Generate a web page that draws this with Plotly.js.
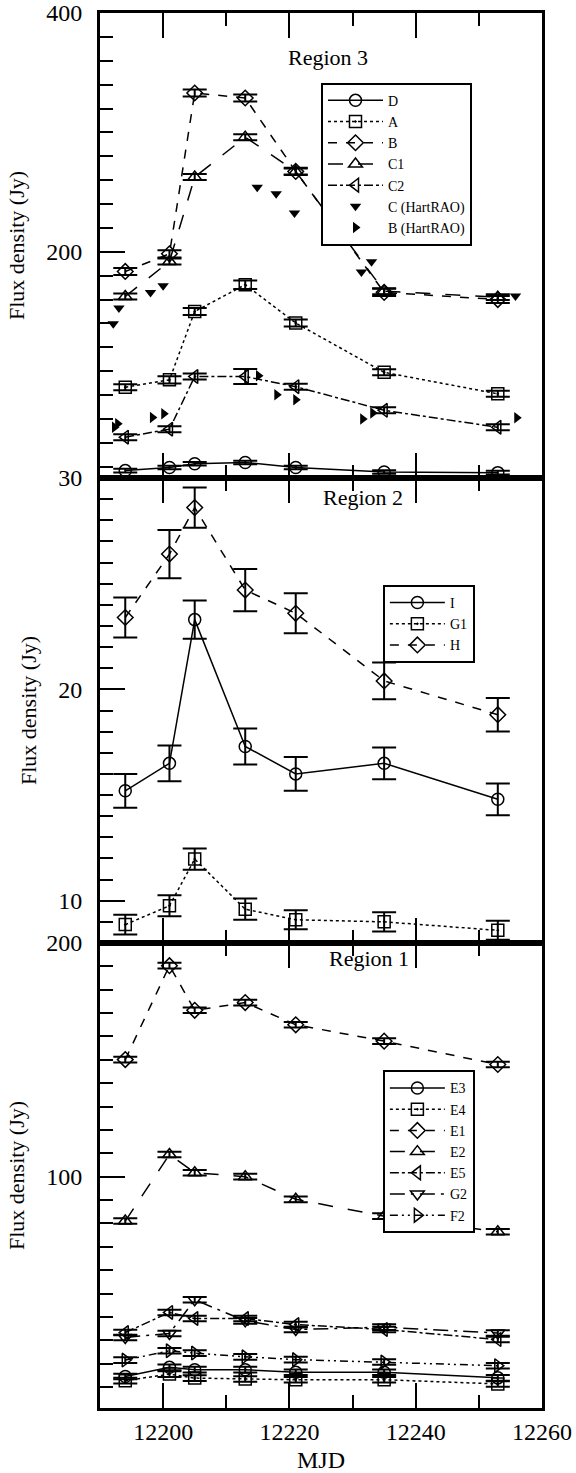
<!DOCTYPE html>
<html>
<head>
<meta charset="utf-8">
<script src="https://cdn.plot.ly/plotly-3.0.1.min.js"></script>
<style>html,body{margin:0;padding:0;background:#fff;}#chart{width:576px;height:1473px;}</style>
</head>
<body>
<div id="chart"></div>
<script>
// ---------- data ----------
const mjd = [12194, 12201, 12205, 12213, 12221, 12235, 12253];

// Region 3 (top panel)
const r3_D  = [16.7, 19.3, 22.4, 23.5, 19.3, 15.5, 15.0];
const r3_Derr = [1.5, 1.5, 1.5, 1.5, 1.5, 1.5, 1.5];
const r3_A  = [86.6, 92.7, 150.0, 172.4, 140.3, 99.0, 81.0];
const r3_Aerr = [2.5, 3.0, 3.0, 3.5, 3.0, 2.5, 2.5];
const r3_B  = [183.5, 198.3, 333.0, 328.8, 267.3, 166.0, 160.0];
const r3_Berr = [3.0, 3.0, 3.0, 3.0, 3.0, 3.0, 3.0];
const r3_C1 = [162.6, 191.9, 262.6, 296.0, 267.3, 167.0, 162.0];
const r3_C1err = [2.5, 2.5, 2.5, 2.5, 2.5, 2.5, 2.5];
const r3_C2 = [44.7, 51.4, 95.5, 95.5, 87.0, 67.2, 53.0];
const r3_C2err = [2.5, 2.5, 2.5, 6.3, 2.5, 2.5, 2.5];
const hartC_mjd = [12192.1, 12193.0, 12198.0, 12200.0, 12214.9, 12217.9, 12220.8, 12231.4, 12233.0, 12255.8];
const hartC_val = [139.7, 152.8, 165.9, 171.5, 254.0, 248.6, 232.4, 183.0, 191.6, 163.0];
const hartB_mjd = [12192.3, 12192.8, 12198.3, 12200.1, 12215.1, 12218.0, 12221.0, 12231.6, 12233.2, 12256.0];
const hartB_val = [53.0, 56.0, 61.2, 64.3, 96.1, 80.2, 76.0, 60.0, 65.0, 61.0];

// Region 2 (middle panel)
const r2_I  = [15.2, 16.5, 23.3, 17.3, 16.0, 16.5, 14.8];
const r2_Ierr = [0.8, 0.85, 0.9, 0.85, 0.8, 0.75, 0.75];
const r2_G1 = [8.87, 9.76, 11.97, 9.6, 9.1, 9.0, 8.6];
const r2_G1err = [0.47, 0.5, 0.5, 0.5, 0.45, 0.45, 0.45];
const r2_H  = [23.4, 26.4, 28.6, 24.7, 23.6, 20.4, 18.8];
const r2_Herr = [0.95, 1.14, 0.95, 1.0, 0.95, 0.87, 0.79];

// Region 1 (bottom panel)
const r1_E3 = [14.5, 18.4, 17.4, 17.4, 16.3, 16.3, 13.9];
const r1_E4 = [12.7, 15.5, 13.8, 13.4, 13.1, 13.1, 11.3];
const r1_E1 = [150.1, 190.3, 171.2, 174.5, 165.0, 158.0, 148.0];
const r1_E2 = [81.0, 109.5, 101.7, 100.0, 90.3, 83.1, 76.4];
const r1_E5 = [33.3, 41.9, 39.3, 39.3, 36.7, 34.6, 30.3];
const r1_G2 = [31.2, 32.9, 47.3, 38.3, 34.6, 35.6, 33.1];
const r1_F2 = [21.5, 25.5, 24.5, 22.9, 21.7, 20.7, 19.1];
const r1_err = [1.2, 1.2, 1.2, 1.2, 1.2, 1.2, 1.2];

// ---------- styling helpers ----------
const FONT = '"Liberation Serif", "Times New Roman", serif';
function series(name, y, err, symbol, dash, xa, ya, legend) {
  return {
    x: mjd, y: y, name: name, type: 'scatter', mode: 'lines+markers',
    xaxis: xa, yaxis: ya, legend: legend,
    line: {color: '#000', width: 1.5, dash: dash},
    marker: {symbol: symbol, size: 12, color: '#000', line: {color: '#000', width: 1.5}},
    error_y: {type: 'data', array: err, visible: true, color: '#000', thickness: 2, width: 12}
  };
}
const dashdotdot = '8px,4px,2px,4px,2px,4px';

const traces = [
  series('D', r3_D, r3_Derr, 'circle-open', 'solid', 'x3', 'y3', 'legend'),
  series('A', r3_A, r3_Aerr, 'square-open-dot', 'dot', 'x3', 'y3', 'legend'),
  series('B', r3_B, r3_Berr, 'diamond-open', 'dash', 'x3', 'y3', 'legend'),
  series('C1', r3_C1, r3_C1err, 'triangle-up-open', 'longdash', 'x3', 'y3', 'legend'),
  series('C2', r3_C2, r3_C2err, 'triangle-left-open', 'dashdot', 'x3', 'y3', 'legend'),
  {x: hartC_mjd, y: hartC_val, name: 'C (HartRAO)', type: 'scatter', mode: 'markers',
   xaxis: 'x3', yaxis: 'y3', legend: 'legend',
   marker: {symbol: 'triangle-down', size: 10, color: '#000'}},
  {x: hartB_mjd, y: hartB_val, name: 'B (HartRAO)', type: 'scatter', mode: 'markers',
   xaxis: 'x3', yaxis: 'y3', legend: 'legend',
   marker: {symbol: 'triangle-right', size: 10, color: '#000'}},
  series('I', r2_I, r2_Ierr, 'circle-open', 'solid', 'x2', 'y2', 'legend2'),
  series('G1', r2_G1, r2_G1err, 'square-open-dot', 'dot', 'x2', 'y2', 'legend2'),
  series('H', r2_H, r2_Herr, 'diamond-open', 'dash', 'x2', 'y2', 'legend2'),
  series('E3', r1_E3, r1_err, 'circle-open', 'solid', 'x', 'y', 'legend3'),
  series('E4', r1_E4, r1_err, 'square-open-dot', 'dot', 'x', 'y', 'legend3'),
  series('E1', r1_E1, r1_err, 'diamond-open', 'dash', 'x', 'y', 'legend3'),
  series('E2', r1_E2, r1_err, 'triangle-up-open', 'longdash', 'x', 'y', 'legend3'),
  series('E5', r1_E5, r1_err, 'triangle-left-open', 'dashdot', 'x', 'y', 'legend3'),
  series('G2', r1_G2, r1_err, 'triangle-down-open', 'longdashdot', 'x', 'y', 'legend3'),
  series('F2', r1_F2, r1_err, 'triangle-right-open', dashdotdot, 'x', 'y', 'legend3')
];

function xax(anchor, showLabels) {
  return {
    anchor: anchor, range: [12190, 12260], dtick: 20, tick0: 12200, tickformat: 'd',
    ticks: 'inside', ticklen: 25, tickwidth: 2, tickcolor: '#000',
    minor: {dtick: 10, ticks: 'inside', ticklen: 13, tickwidth: 2, tickcolor: '#000'},
    showline: true, linewidth: 3, linecolor: '#000', mirror: 'ticks',
    showgrid: false, zeroline: false, showticklabels: showLabels,
    tickfont: {family: FONT, size: 24, color: '#000'}
  };
}
function yax(anchor, domain, range, dtick, mdtick) {
  return {
    anchor: anchor, domain: domain, range: range, dtick: dtick, tick0: 0, tickformat: 'd',
    ticks: 'inside', ticklen: 25, tickwidth: 2, tickcolor: '#000',
    minor: {dtick: mdtick, ticks: 'inside', ticklen: 13, tickwidth: 2, tickcolor: '#000'},
    showline: true, linewidth: 3, linecolor: '#000', mirror: true,
    showgrid: false, zeroline: false,
    tickfont: {family: FONT, size: 24, color: '#000'}, ticklabelstandoff: 10,
    title: {text: 'Flux density (Jy)', font: {family: FONT, size: 22, color: '#000'}, standoff: 16}
  };
}

const xa1 = xax('y', true);
xa1.title = {text: 'MJD', font: {family: FONT, size: 24, color: '#000'}, standoff: 8};
const legendBase = {
  bgcolor: '#fff', bordercolor: '#000', borderwidth: 2,
  font: {family: FONT, size: 14, color: '#000'},
  xanchor: 'left', yanchor: 'top', tracegroupgap: 0, itemwidth: 55
};

const layout = {
  width: 576, height: 1473,
  margin: {l: 100, r: 34, t: 13, b: 65},
  paper_bgcolor: '#fff', plot_bgcolor: '#fff',
  font: {family: FONT, color: '#000'},
  showlegend: true,
  xaxis: xa1,
  xaxis2: xax('y2', false),
  xaxis3: xax('y3', false),
  yaxis: yax('x', [0, 1/3], [1, 200], 100, 10),
  yaxis2: yax('x2', [1/3, 2/3], [8, 30], 10, 1),
  yaxis3: yax('x3', [2/3, 1], [10.5, 400], 200, 20),
  legend: Object.assign({}, legendBase, {x: 0.5, y: 0.95}),
  legend2: Object.assign({}, legendBase, {x: 0.64, y: 0.59}),
  legend3: Object.assign({}, legendBase, {x: 0.64, y: 0.242}),
  annotations: [
    {text: 'Region 3', xref: 'x3', yref: 'y3 domain', x: 12219.5, y: 0.905, showarrow: false,
     xanchor: 'left', yanchor: 'middle', font: {family: FONT, size: 22, color: '#000'}},
    {text: 'Region 2', xref: 'x2', yref: 'y2 domain', x: 12225, y: 0.99, showarrow: false,
     xanchor: 'left', yanchor: 'top', font: {family: FONT, size: 22, color: '#000'}},
    {text: 'Region 1', xref: 'x', yref: 'y domain', x: 12226, y: 0.998, showarrow: false,
     xanchor: 'left', yanchor: 'top', font: {family: FONT, size: 22, color: '#000'}}
  ]
};

Plotly.newPlot('chart', traces, layout, {staticPlot: true, displayModeBar: false});
</script>
</body>
</html>
